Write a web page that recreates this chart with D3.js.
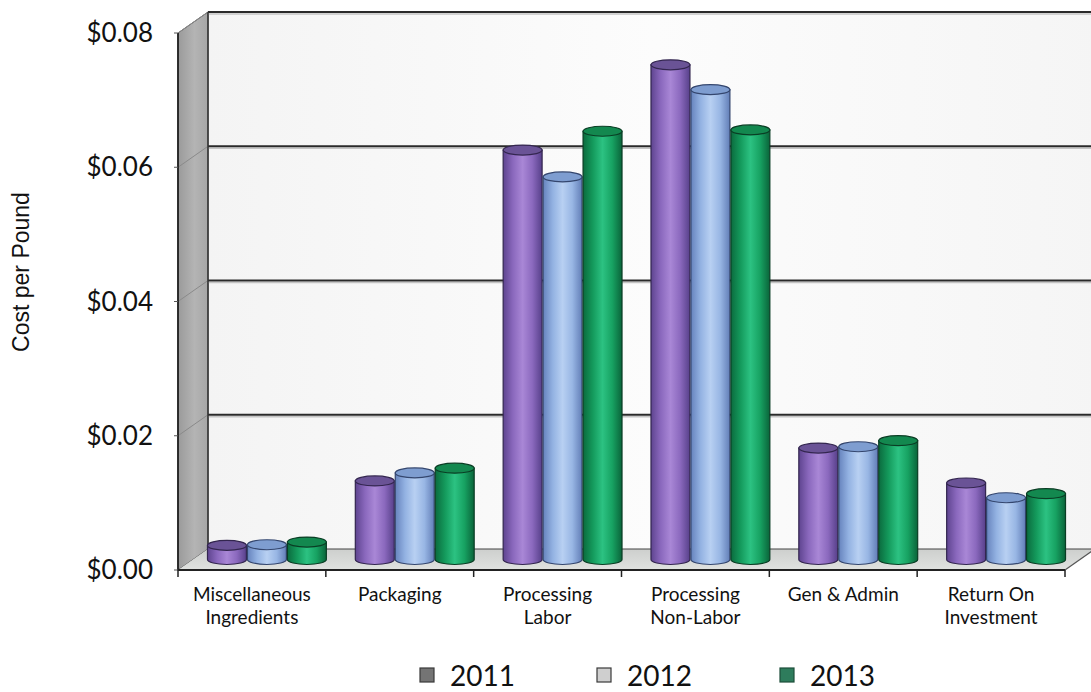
<!DOCTYPE html>
<html>
<head>
<meta charset="utf-8">
<script src="https://cdn.jsdelivr.net/npm/d3@7/dist/d3.min.js"></script>
<style>
  html, body { margin: 0; padding: 0; background: #ffffff; }
  svg { display: block; }
</style>
</head>
<body>
<svg id="chart" width="1091" height="692"></svg>
<script>
// Cost breakdown per pound, three years, drawn as 3-D cylinders
const categories = [
  "Miscellaneous Ingredients",
  "Packaging",
  "Processing Labor",
  "Processing Non-Labor",
  "Gen & Admin",
  "Return On Investment"
];
const categoryLines = [
  ["Miscellaneous", "Ingredients"],
  ["Packaging"],
  ["Processing", "Labor"],
  ["Processing", "Non-Labor"],
  ["Gen & Admin"],
  ["Return On", "Investment"]
];
const years = ["2011", "2012", "2013"];
const values2011 = [0.0021, 0.0117, 0.0610, 0.0737, 0.0166, 0.0114];
const values2012 = [0.0022, 0.0129, 0.0570, 0.0700, 0.0168, 0.0092];
const values2013 = [0.0026, 0.0136, 0.0638, 0.0640, 0.0177, 0.0098];
const yTicks = [0, 0.02, 0.04, 0.06, 0.08];
const yTickLabels = ["$0.00", "$0.02", "$0.04", "$0.06", "$0.08"];
const yTitle = "Cost per Pound";

const seriesValues = [values2011, values2012, values2013];

const svg = d3.select("#chart");
const W = 1091, H = 692;

// front plane of the plot box and the depth offset of the back plane
const plotLeft = 178, plotRight = 1065, plotBottom = 570, plotTop = 33;
const DX = 30, DY = -21;

const x = d3.scaleBand().domain(categories).range([plotLeft, plotRight]).paddingInner(0).paddingOuter(0);
const xs = d3.scaleBand().domain(years).range([0, x.bandwidth()]).paddingInner(0).paddingOuter(0.35);
const y = d3.scaleLinear().domain([0, 0.08]).range([plotBottom, plotTop]);

const defs = svg.append("defs");

// shading gradients
const wallGrad = defs.append("linearGradient").attr("id", "wallGrad").attr("x1", 0).attr("x2", 1).attr("y1", 0).attr("y2", 0);
wallGrad.append("stop").attr("offset", "0%").attr("stop-color", "#f4f4f4");
wallGrad.append("stop").attr("offset", "50%").attr("stop-color", "#fcfcfc");
wallGrad.append("stop").attr("offset", "100%").attr("stop-color", "#f5f5f5");

const sideGrad = defs.append("linearGradient").attr("id", "sideGrad").attr("x1", 0).attr("x2", 1).attr("y1", 0).attr("y2", 0);
sideGrad.append("stop").attr("offset", "0%").attr("stop-color", "#9a9a9a");
sideGrad.append("stop").attr("offset", "55%").attr("stop-color", "#b4b4b4");
sideGrad.append("stop").attr("offset", "100%").attr("stop-color", "#a6a6a6");

const floorGrad = defs.append("linearGradient").attr("id", "floorGrad").attr("x1", 0).attr("x2", 0).attr("y1", 0).attr("y2", 1);
floorGrad.append("stop").attr("offset", "0%").attr("stop-color", "#cdcfcd");
floorGrad.append("stop").attr("offset", "100%").attr("stop-color", "#e0e2e0");

const palettes = [
  { id: "g2011", stops: ["#5e448f", "#8a68bd", "#a987d6", "#8b69be", "#57408a"], cap: "#6a5396", edge: "#33264f" },
  { id: "g2012", stops: ["#6683bd", "#93b2e2", "#b8d0f2", "#98b6e4", "#627eb7"], cap: "#7e9dd0", edge: "#34466e" },
  { id: "g2013", stops: ["#0b6b3e", "#149a5c", "#2cc282", "#17a262", "#0a643a"], cap: "#13884f", edge: "#0a3d24" }
];
palettes.forEach(p => {
  const g = defs.append("linearGradient").attr("id", p.id).attr("x1", 0).attr("x2", 1).attr("y1", 0).attr("y2", 0);
  p.stops.forEach((c, i) => g.append("stop").attr("offset", (i / (p.stops.length - 1) * 100) + "%").attr("stop-color", c));
});

// back wall
svg.append("rect")
  .attr("x", plotLeft + DX).attr("y", y(0.08) + DY)
  .attr("width", W - (plotLeft + DX) + 10).attr("height", y(0) - y(0.08))
  .attr("fill", "url(#wallGrad)");

// side wall
svg.append("polygon")
  .attr("points", [[plotLeft, y(0)], [plotLeft, y(0.08)], [plotLeft + DX, y(0.08) + DY], [plotLeft + DX, y(0) + DY]].map(p => p.join(",")).join(" "))
  .attr("fill", "url(#sideGrad)")
  .attr("stroke", "#555").attr("stroke-width", 1);

// floor
svg.append("polygon")
  .attr("points", [[plotLeft, y(0)], [plotRight, y(0)], [plotRight + DX, y(0) + DY], [plotLeft + DX, y(0) + DY]].map(p => p.join(",")).join(" "))
  .attr("fill", "url(#floorGrad)");
svg.append("line")
  .attr("x1", plotLeft + DX).attr("x2", plotRight + DX)
  .attr("y1", y(0) + DY).attr("y2", y(0) + DY)
  .attr("stroke", "#444").attr("stroke-width", 1.2);
svg.append("line")
  .attr("x1", plotRight).attr("y1", y(0))
  .attr("x2", plotRight + DX).attr("y2", y(0) + DY)
  .attr("stroke", "#555").attr("stroke-width", 1.2);

// gridlines on the back wall and faint traces on the side wall
const grid = svg.append("g");
yTicks.filter(t => t > 0).forEach(t => {
  const gy = y(t) + DY;
  grid.append("line").attr("x1", plotLeft + DX).attr("x2", W).attr("y1", gy + 2).attr("y2", gy + 2)
    .attr("stroke", "#c4c4c4").attr("stroke-width", 1.5);
  grid.append("line").attr("x1", plotLeft + DX).attr("x2", W).attr("y1", gy).attr("y2", gy)
    .attr("stroke", "#2a2a2a").attr("stroke-width", 1.8);
  grid.append("line").attr("x1", plotLeft).attr("x2", plotLeft + DX).attr("y1", y(t)).attr("y2", gy)
    .attr("stroke", "#8a8a8a").attr("stroke-width", 1);
});
// back wall left edge
svg.append("line").attr("x1", plotLeft + DX).attr("x2", plotLeft + DX).attr("y1", y(0.08) + DY).attr("y2", y(0) + DY)
  .attr("stroke", "#333").attr("stroke-width", 1.5);

// cylinders
const rx = xs.bandwidth() / 2 - 0.5, ry = 5;
const bars = svg.append("g");
categories.forEach((c, ci) => {
  years.forEach((yr, si) => {
    const v = seriesValues[si][ci];
    const p = palettes[si];
    const cx = x(c) + xs(yr) + xs.bandwidth() / 2 + DX / 2;
    const baseY = y(0) + DY / 2;
    const topY = y(v) + DY / 2;
    const body = `M${cx - rx},${topY} L${cx - rx},${baseY} A${rx},${ry} 0 0 0 ${cx + rx},${baseY} L${cx + rx},${topY} Z`;
    bars.append("path").attr("d", body)
      .attr("fill", `url(#${p.id})`)
      .attr("stroke", p.edge).attr("stroke-width", 1.2);
    bars.append("ellipse")
      .attr("cx", cx).attr("cy", topY).attr("rx", rx).attr("ry", ry)
      .attr("fill", p.cap).attr("stroke", p.edge).attr("stroke-width", 1.2);
  });
});

// axis lines
const axes = svg.append("g");
axes.append("line").attr("x1", plotLeft).attr("x2", plotLeft).attr("y1", y(0.08)).attr("y2", y(0) + 1)
  .attr("stroke", "#222").attr("stroke-width", 1.8);
axes.append("line").attr("x1", plotLeft).attr("x2", plotRight).attr("y1", y(0)).attr("y2", y(0))
  .attr("stroke", "#222").attr("stroke-width", 1.8);
d3.range(categories.length + 1).forEach(i => {
  const tx = plotLeft + i * x.step();
  axes.append("line").attr("x1", tx).attr("x2", tx).attr("y1", y(0)).attr("y2", y(0) + 7)
    .attr("stroke", "#222").attr("stroke-width", 1.5);
});
yTicks.forEach(t => {
  axes.append("line").attr("x1", plotLeft - 4).attr("x2", plotLeft).attr("y1", y(t)).attr("y2", y(t))
    .attr("stroke", "#555").attr("stroke-width", 1);
});

// y tick labels
svg.append("g").selectAll("text").data(yTicks).join("text")
  .attr("x", 153).attr("y", d => y(d)).attr("dy", "0.35em")
  .attr("text-anchor", "end")
  .attr("font-family", "Lato, 'Open Sans', sans-serif")
  .attr("font-size", 26).attr("fill", "#111")
  .text((d, i) => yTickLabels[i]);

// y title
svg.append("text")
  .attr("transform", `translate(29,272) rotate(-90)`)
  .attr("text-anchor", "middle")
  .attr("font-family", "'Liberation Sans', Arial, sans-serif")
  .attr("font-size", 23).attr("fill", "#111")
  .text(yTitle);

// category labels
const catG = svg.append("g");
categories.forEach((c, i) => {
  const t = catG.append("text")
    .attr("x", x(c) + x.bandwidth() / 2)
    .attr("y", 601)
    .attr("text-anchor", "middle")
    .attr("font-family", "Lato, 'Open Sans', sans-serif")
    .attr("font-size", 19).attr("fill", "#111");
  categoryLines[i].forEach((ln, k) => {
    t.append("tspan").attr("x", x(c) + x.bandwidth() / 2).attr("dy", k === 0 ? 0 : 23).text(ln);
  });
});

// legend
const legendX = [420, 597, 780];
const swatch = [
  { fill: "#747474", stroke: "#3a3a3a" },
  { fill: "#cfcfcf", stroke: "#3a3a3a" },
  { fill: "#2e7c5c", stroke: "#1d4f3a" }
];
const lg = svg.append("g");
years.forEach((yr, i) => {
  lg.append("rect").attr("x", legendX[i]).attr("y", 668).attr("width", 14).attr("height", 14)
    .attr("fill", swatch[i].fill).attr("stroke", swatch[i].stroke).attr("stroke-width", 1.2);
  lg.append("text").attr("x", legendX[i] + 30).attr("y", 686)
    .attr("font-family", "Lato, 'Open Sans', sans-serif")
    .attr("font-size", 28).attr("fill", "#111")
    .text(yr);
});
</script>
</body>
</html>
